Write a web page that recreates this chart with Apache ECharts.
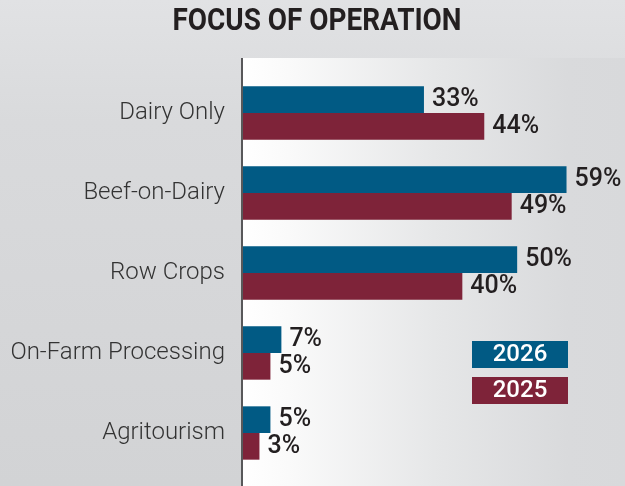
<!DOCTYPE html>
<html>
<head>
<meta charset="utf-8">
<style>
  html, body { margin: 0; padding: 0; }
  #chart { width: 625px; height: 486px; }
</style>
<script src="https://cdn.jsdelivr.net/npm/echarts@6/dist/echarts.min.js"></script>
</head>
<body>
<div id="chart"></div>
<script>
// Survey: primary focus of dairy operations, share of respondents (%)
const categories = ['Dairy Only', 'Beef-on-Dairy', 'Row Crops', 'On-Farm Processing', 'Agritourism'];
const values2026 = [33, 59, 50, 7, 5];
const values2025 = [44, 49, 40, 5, 3];
const seriesNames = ['2026', '2025'];
const titleText = 'FOCUS OF OPERATION';

const BLUE = '#015a84';
const MAROON = '#7e2339';

const chart = echarts.init(document.getElementById('chart'));

const labelStyle = {
  show: true,
  position: 'right',
  distance: 8,
  formatter: '{c}%',
  fontFamily: 'Roboto',
  fontWeight: 500,
  fontSize: 25,
  color: '#231f20'
};

// Legend entries drawn as solid coloured boxes with the year centred inside
function legendItem(name, color) {
  return {
    name: name,
    icon: 'none',
    textStyle: {
      rich: {
        box: {
          backgroundColor: color,
          color: '#ffffff',
          width: 96,
          height: 27,
          lineHeight: 27,
          align: 'center',
          fontFamily: 'Roboto',
          fontWeight: 500,
          fontSize: 24
        }
      }
    }
  };
}

chart.setOption({
  animation: false,
  backgroundColor: {
    type: 'linear', x: 0, y: 0, x2: 0, y2: 1,
    colorStops: [
      { offset: 0, color: '#e1e2e4' },
      { offset: 0.25, color: '#d9dadc' },
      { offset: 1, color: '#d2d3d5' }
    ]
  },
  graphic: [
    {
      type: 'rect',
      z: -1,
      shape: { x: 243, y: 58, width: 382, height: 428 },
      style: {
        fill: {
          type: 'linear', x: 0, y: 0, x2: 1, y2: 0,
          colorStops: [
            { offset: 0, color: '#ffffff' },
            { offset: 0.12, color: '#fafafa' },
            { offset: 0.5, color: '#e6e7e8' },
            { offset: 0.85, color: '#d9dadc' },
            { offset: 1, color: '#d8d9db' }
          ]
        }
      }
    },
    {
      type: 'line',
      z: 10,
      shape: { x1: 242, y1: 58, x2: 242, y2: 486 },
      style: { stroke: '#58585a', lineWidth: 2 }
    },
    {
      // condensed headline
      type: 'text',
      x: 317,
      y: 22,
      scaleX: 0.9,
      style: {
        text: titleText,
        align: 'center',
        verticalAlign: 'middle',
        font: 'bold 31px Roboto',
        fill: '#231f20'
      }
    }
  ],
  legend: {
    orient: 'vertical',
    left: 467,
    top: 341,
    itemWidth: 0,
    itemHeight: 27,
    itemGap: 9,
    padding: 0,
    selectedMode: false,
    formatter: '{box|{name}}',
    data: [legendItem(seriesNames[0], BLUE), legendItem(seriesNames[1], MAROON)]
  },
  grid: {
    left: 243,
    right: 53,
    top: 73,
    height: 400
  },
  xAxis: {
    type: 'value',
    min: 0,
    max: 60,
    show: false
  },
  yAxis: {
    type: 'category',
    inverse: true,
    data: categories,
    axisLine: { show: false },
    axisTick: { show: false },
    axisLabel: {
      margin: 18,
      fontFamily: 'Roboto',
      fontWeight: 300,
      fontSize: 24,
      color: '#333333'
    }
  },
  series: [
    {
      name: seriesNames[0],
      type: 'bar',
      data: values2026,
      barGap: 0,
      barCategoryGap: '33.33%',
      itemStyle: { color: BLUE },
      label: labelStyle
    },
    {
      name: seriesNames[1],
      type: 'bar',
      data: values2025,
      barGap: 0,
      barCategoryGap: '33.33%',
      itemStyle: { color: MAROON },
      label: labelStyle
    }
  ]
});
</script>
</body>
</html>
